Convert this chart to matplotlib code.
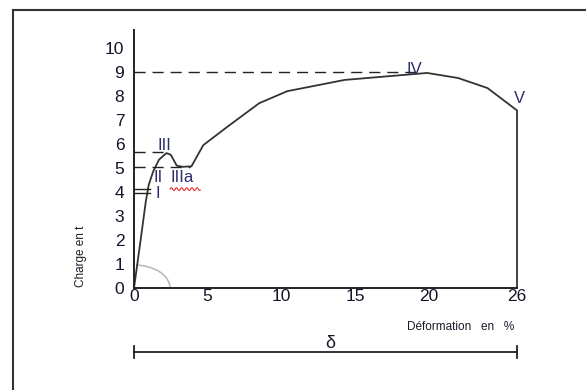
import numpy as np
import matplotlib
matplotlib.use("Agg")
import matplotlib.pyplot as plt
from matplotlib.lines import Line2D
from matplotlib.patches import Arc

plt.rcParams['font.family'] = ['Liberation Sans', 'DejaVu Sans']

# courbe charge / deformation
deformation = [0, 0.45, 0.8, 1.0, 1.3, 1.7, 2.2, 2.5, 2.9, 3.3, 3.9, 4.7, 6.3,
               8.5, 10.4, 14.3, 19.9, 22, 24, 26, 26]
charge = [0, 2.0, 3.6, 4.3, 4.85, 5.35, 5.62, 5.55, 5.1, 5.05, 5.07, 5.95, 6.7,
          7.7, 8.2, 8.67, 8.96, 8.75, 8.33, 7.4, 0]

xticks = [0, 5, 10, 15, 20, 26]
yticks = [0, 1, 2, 3, 4, 5, 6, 7, 8, 9, 10]

# reperes en pointilles (niveau, fin en x)
niveaux_tirets = [9.0, 5.65, 5.05]
fins_tirets = [19.5, 2.2, 3.8]
# petits traits pleins (zone I / II)
niveaux_traits = [4.12, 3.95]
fin_traits = 1.1

# etiquettes des zones
etiquettes = ['I', 'II', 'III', 'IIIa', 'IV', 'V']
etiq_x = [1.45, 1.3, 1.6, 2.45, 18.5, 25.8]
etiq_y = [3.95, 4.6, 5.92, 4.6, 9.12, 7.9]

fig = plt.figure(figsize=(5.86, 3.9), dpi=100)
ax = fig.add_axes([134 / 586, 1 - 288 / 390, 383 / 586, 258 / 390])

ax.plot(deformation, charge, color='#333333', lw=1.3, clip_on=False)

for niv, fin in zip(niveaux_tirets, fins_tirets):
    ax.plot([0, fin], [niv, niv], color='#222222', lw=1.0, dashes=(8, 5))
for niv in niveaux_traits:
    ax.plot([0, fin_traits], [niv, niv], color='#222222', lw=1.0)

for t, x, y in zip(etiquettes, etiq_x, etiq_y):
    ax.text(x, y, t, fontsize=12, color='#2b2b6e', ha='left', va='center')

# soulignement ondule rouge sous IIIa
xs = np.linspace(2.45, 4.5, 60)
ax.plot(xs, 4.12 + 0.06 * np.sin((xs - 2.45) * 18), color='#e03030', lw=0.8)

# arc gris a l'origine
ax.add_patch(Arc((0, 0), 2 * 36 / 14.73, 2 * 23 / 24, theta1=0, theta2=82,
                 color='#bbbbbb', lw=1.2))

ax.set_xlim(0, 26)
ax.set_ylim(0, 10.75)
ax.set_xticks(xticks)
ax.set_yticks(yticks)
ax.tick_params(length=0, labelsize=12.5, labelcolor='#141428')
ax.tick_params(axis='y', pad=7)
ax.tick_params(axis='x', pad=1)
for s in ['top', 'right']:
    ax.spines[s].set_visible(False)
for s in ['left', 'bottom']:
    ax.spines[s].set_color('#222222')
    ax.spines[s].set_linewidth(1.4)

ax.text(22.2, -1.62, 'Déformation   en   %', fontsize=8.5, ha='center', va='center',
        color='#1a1a2a')
ax.text(-3.6, 1.33, 'Charge en t', fontsize=8.5, rotation=90, ha='center',
        va='center', color='#1a1a2a')

# segment delta
yd = -2.67
ax.plot([0, 26], [yd, yd], color='#222222', lw=1.3, clip_on=False)
ax.plot([0, 0], [yd - 0.25, yd + 0.25], color='#222222', lw=1.3, clip_on=False)
ax.plot([26, 26], [yd - 0.25, yd + 0.25], color='#222222', lw=1.3, clip_on=False)
ax.text(13.3, -2.3, 'δ', fontsize=13, ha='center', va='center', color='#1a1a2a')

# cadre
fig.add_artist(Line2D([12.5 / 586, 12.5 / 586], [0, 1 - 10 / 390],
                      transform=fig.transFigure, color='#333333', lw=1.5))
fig.add_artist(Line2D([12.5 / 586, 1], [1 - 10 / 390, 1 - 10 / 390],
                      transform=fig.transFigure, color='#333333', lw=1.5))

fig.savefig('out.png', dpi=100)
